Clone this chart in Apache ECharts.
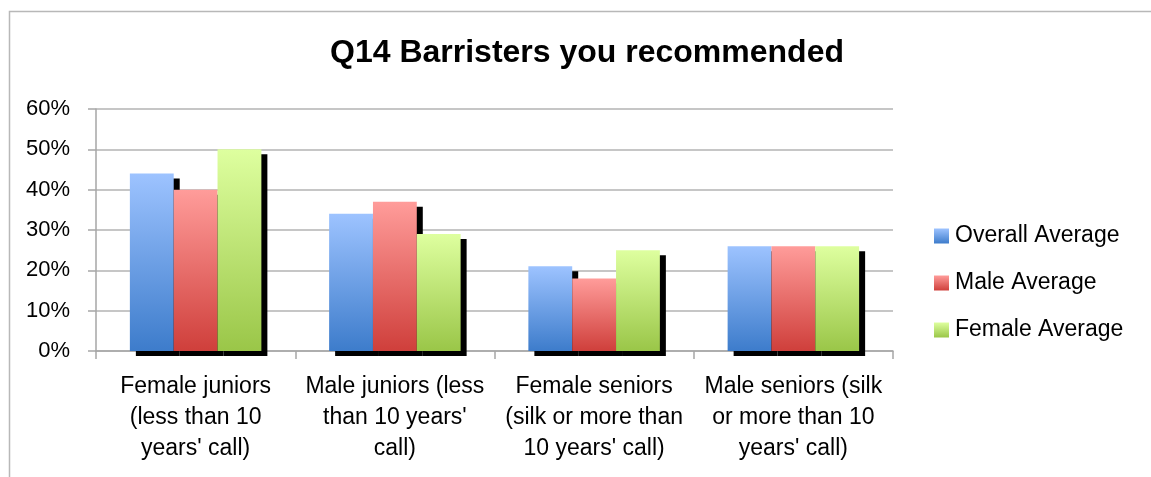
<!DOCTYPE html>
<html>
<head>
<meta charset="utf-8">
<title>Q14 Barristers you recommended</title>
<script src="https://cdn.jsdelivr.net/npm/echarts@6/dist/echarts.min.js"></script>
<style>
  html, body { margin: 0; padding: 0; background: #ffffff; }
  #chart { width: 1151px; height: 477px; }
</style>
</head>
<body>
<div id="chart"></div>
<script>
// Categories and survey averages (share of respondents, %)
const categories = [
  "Female juniors\n(less than 10\nyears' call)",
  "Male juniors (less\nthan 10 years'\ncall)",
  "Female seniors\n(silk or more than\n10 years' call)",
  "Male seniors (silk\nor more than 10\nyears' call)"
];
const overallAverage = [44, 34, 21, 26];
const maleAverage = [40, 37, 18, 26];
const femaleAverage = [50, 29, 25, 26];
const yTicks = [0, 10, 20, 30, 40, 50, 60];

const FONT = "Liberation Sans, Arial, sans-serif";

function vgrad(top, bottom) {
  return new echarts.graphic.LinearGradient(0, 0, 0, 1, [
    { offset: 0, color: top },
    { offset: 1, color: bottom }
  ]);
}

function barSeries(name, data, top, bottom) {
  return {
    name: name,
    type: 'bar',
    data: data,
    barGap: '0%',
    barCategoryGap: '34%',
    itemStyle: {
      color: vgrad(top, bottom),
      shadowColor: '#000000',
      shadowBlur: 0,
      shadowOffsetX: 6,
      shadowOffsetY: 5
    }
  };
}

const chart = echarts.init(document.getElementById('chart'), null, { renderer: 'canvas' });

chart.setOption({
  animation: false,
  backgroundColor: '#ffffff',
  graphic: [{
    type: 'rect',
    left: 7, top: 9,
    shape: { width: 1200, height: 520 },
    style: { fill: 'none', stroke: '#B8B8B8', lineWidth: 1.5 },
    silent: true,
    z: -1
  }, {
    // chart title, sitting a little right of the page centre
    type: 'text',
    left: 330,
    top: 37,
    silent: true,
    style: {
      text: 'Q14 Barristers you recommended',
      fontFamily: FONT, fontSize: 32, fontWeight: 'bold', fill: '#000000'
    }
  }],
  legend: {
    orient: 'vertical',
    left: 934,
    top: 224,
    padding: 0,
    itemWidth: 15,
    itemHeight: 15,
    itemGap: 23,
    icon: 'rect',
    textStyle: { fontFamily: FONT, fontSize: 23, color: '#000000', lineHeight: 24, padding: [0, 0, 0, 1] },
    data: ['Overall Average', 'Male Average', 'Female Average']
  },
  grid: { left: 96, right: 258, top: 109, bottom: 126, containLabel: false },
  xAxis: {
    type: 'category',
    data: categories,
    axisLine: { show: true, lineStyle: { color: '#A6A6A6', width: 1.5 } },
    axisTick: { show: true, length: 8, alignWithLabel: false, lineStyle: { color: '#A6A6A6', width: 1.5 } },
    axisLabel: {
      fontFamily: FONT, fontSize: 23, color: '#000000',
      lineHeight: 31, margin: 20, interval: 0, align: 'center'
    },
    splitLine: { show: false }
  },
  yAxis: {
    type: 'value',
    min: yTicks[0],
    max: yTicks[yTicks.length - 1],
    interval: 10,
    axisLine: { show: true, lineStyle: { color: '#A6A6A6', width: 1.5 } },
    axisTick: { show: true, length: 8, lineStyle: { color: '#A6A6A6', width: 1.5 } },
    axisLabel: {
      fontFamily: FONT, fontSize: 22, color: '#000000', margin: 26,
      formatter: function (v) { return v + '%'; }
    },
    splitLine: { show: true, lineStyle: { color: '#B3B3B3', width: 1.5 } }
  },
  series: [
    barSeries('Overall Average', overallAverage, '#9DC3FF', '#3D7CCB'),
    barSeries('Male Average', maleAverage, '#FF9C9A', '#CF3F3B'),
    barSeries('Female Average', femaleAverage, '#DEFF9F', '#9AC648')
  ]
});
</script>
</body>
</html>
